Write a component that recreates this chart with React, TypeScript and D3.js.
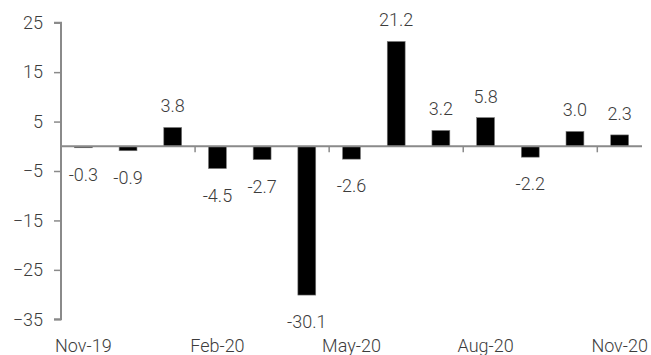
import React, { useEffect, useRef } from 'react';
import * as d3 from 'd3';

const months = ['Nov-19', 'Dec-19', 'Jan-20', 'Feb-20', 'Mar-20', 'Apr-20', 'May-20', 'Jun-20', 'Jul-20', 'Aug-20', 'Sep-20', 'Oct-20', 'Nov-20'];
const values = [-0.3, -0.9, 3.8, -4.5, -2.7, -30.1, -2.6, 21.2, 3.2, 5.8, -2.2, 3.0, 2.3];
const yTicks = [25, 15, 5, -5, -15, -25, -35];
const xLabels = ['Nov-19', 'Feb-20', 'May-20', 'Aug-20', 'Nov-20'];

const BarChart: React.FC = () => {
  const svgRef = useRef<SVGSVGElement>(null);

  useEffect(() => {
    if (!svgRef.current) return;
    document.body.style.margin = '0';

    const svg = d3.select(svgRef.current);
    svg.selectAll('*').remove();

    const width = 651;
    const height = 355;
    const font = 'Roboto, "Liberation Sans", sans-serif';
    const textColor = '#3c3c3c';
    const axisColor = '#8a8a8a';

    const x = d3.scaleBand<string>()
      .domain(months)
      .range([61, 642])
      .paddingInner(0.6)
      .paddingOuter(0.3);

    const y = d3.scaleLinear()
      .domain([-35, 25])
      .range([319.3, 22.7]);

    const step = x.step();
    const x0 = x.range()[0];

    // Bars
    svg.append('g')
      .selectAll('rect')
      .data(values)
      .enter()
      .append('rect')
      .attr('x', (d, i) => x(months[i])!)
      .attr('width', x.bandwidth())
      .attr('y', d => y(Math.max(0, d)))
      .attr('height', d => Math.abs(y(d) - y(0)))
      .attr('fill', '#000')
      .attr('stroke', '#7a7a7a')
      .attr('stroke-width', 0.6);

    // Zero line
    svg.append('line')
      .attr('x1', x0)
      .attr('x2', x.range()[1])
      .attr('y1', y(0))
      .attr('y2', y(0))
      .attr('stroke', axisColor)
      .attr('stroke-width', 2);

    // Ticks on the zero line every 3 months
    svg.append('g')
      .selectAll('line')
      .data([3, 6, 9, 12])
      .enter()
      .append('line')
      .attr('x1', d => x0 + d * step)
      .attr('x2', d => x0 + d * step)
      .attr('y1', y(0))
      .attr('y2', y(0) + 6)
      .attr('stroke', axisColor)
      .attr('stroke-width', 1.5);

    // Y axis
    const yAxis = d3.axisLeft(y)
      .tickValues(yTicks)
      .tickSize(7)
      .tickPadding(11)
      .tickFormat(d3.format('d') as any);

    const yg = svg.append('g')
      .attr('transform', `translate(${x0},0)`)
      .call(yAxis);

    yg.select('.domain')
      .attr('d', `M-7,${y(25)}H0V${y(-35)}H-7`)
      .attr('stroke', axisColor)
      .attr('stroke-width', 2)
      .attr('fill', 'none');
    yg.selectAll('.tick line')
      .attr('stroke', axisColor)
      .attr('stroke-width', 1.5);
    yg.selectAll('.tick text')
      .attr('fill', textColor)
      .style('font-family', font)
      .style('font-weight', 300)
      .style('font-size', '18px');

    // X labels along the bottom
    svg.append('g')
      .selectAll('text')
      .data(xLabels)
      .enter()
      .append('text')
      .attr('x', d => x(d)! + x.bandwidth() / 2)
      .attr('y', 352)
      .attr('text-anchor', 'middle')
      .attr('fill', textColor)
      .style('font-family', font)
      .style('font-weight', 300)
      .style('font-size', '18px')
      .text(d => d);

    // Value labels
    svg.append('g')
      .selectAll('text')
      .data(values)
      .enter()
      .append('text')
      .attr('x', (d, i) => x(months[i])! + x.bandwidth() / 2)
      .attr('y', d => (d >= 0 ? y(d) - 15 : y(d) + 33))
      .attr('text-anchor', 'middle')
      .attr('fill', textColor)
      .style('font-family', font)
      .style('font-weight', 300)
      .style('font-size', '18px')
      .text(d => d.toFixed(1));

    svg.attr('width', width).attr('height', height);
  }, []);

  return <svg ref={svgRef} width={651} height={355} style={{ display: 'block', background: '#fff' }} />;
};

export default function App() {
  return <BarChart />;
}
